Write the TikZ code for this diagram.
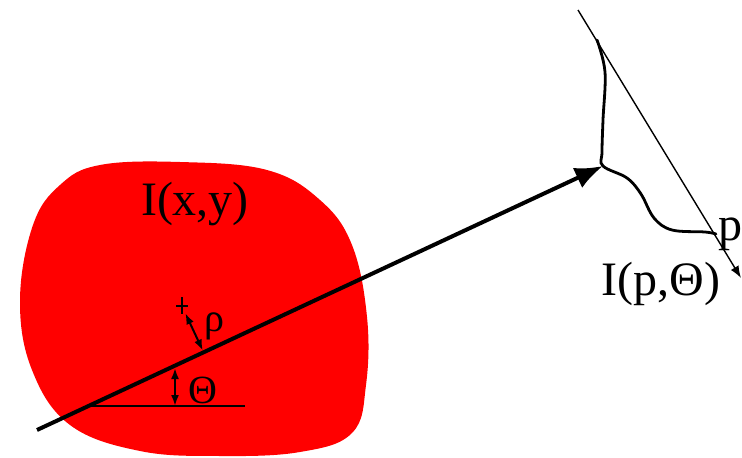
\documentclass[tikz,border=0pt]{standalone}
\usepackage{fontspec}
\setmainfont{Liberation Serif}
\usetikzlibrary{arrows.meta,calc}

\definecolor{objekt}{RGB}{255,0,0}

\tikzset{
  gross/.style={font=\fontsize{48}{52}\selectfont, inner sep=0pt, anchor=base},
  klein/.style={font=\fontsize{40}{44}\selectfont, inner sep=0pt, anchor=base},
  strahl/.style={-{Latex[length=28pt,width=22pt]}, line width=4pt},
  achse/.style={-{Latex[length=12pt,width=9pt]}, line width=1.4pt},
  profil/.style={line width=2.8pt, line cap=round},
  mass/.style={{Latex[length=11pt,width=8pt]}-{Latex[length=11pt,width=8pt]}, line width=2pt},
}

\begin{document}
\begin{tikzpicture}[x=1pt, y=-1pt]
  \useasboundingbox (0,0) rectangle (742,458);

  % Objekt (rote Flaeche)
  \fill[objekt] plot[smooth cycle, tension=0.65] coordinates {
    (100,165) (180,162) (267,170) (320,200) (352,245) (367,317) (366,385)
    (352,433) (300,452) (220,456) (140,451) (70,425) (32,370) (20,300)
    (33,225) (60,185)};
  \node[gross] (bild) at (195,215) {I(x,y)};

  % Koordinaten
  \coordinate (start)   at (37,430);
  \coordinate (treffer) at (603,166);
  \coordinate (ursprung) at (182,306);
  \coordinate (oben)    at (578,10);
  \coordinate (unten)   at (741,278);
  \coordinate (winkeloben)  at (175,368);
  \coordinate (winkelunten) at (175,406);
  \coordinate (horizlinks)  at (90,406);
  \coordinate (horizrechts) at (245,406);
  \coordinate (fuss) at ($(start)!(ursprung)!(treffer)$);

  % Ursprung (+) und Abstand
  \draw[line width=1.2pt] ($(ursprung)+(-6,0)$) -- ($(ursprung)+(6,0)$);
  \draw[line width=1.2pt] ($(ursprung)+(0,-9)$) -- ($(ursprung)+(0,8)$);
  \draw[mass, shorten <=8pt, shorten >=2pt] (ursprung) -- (fuss);
  \node[klein] (rho) at (214,331) {ρ};

  % Winkel
  \draw[line width=1.4pt] (horizlinks) -- (horizrechts);
  \draw[mass] (winkeloben) -- (winkelunten);
  \node[klein] (theta) at (203,403) {Θ};

  % Projektionsstrahl
  \draw[strahl] (start) -- (treffer);

  % Projektion
  \draw[achse] (oben) -- (unten);
  \draw[profil] plot[smooth, tension=0.6] coordinates {
    (597,40) (605,72) (603,120) (602,152) (603,166) (627,178) (641,194)
    (654,218) (672,230) (705,232) (716,234)};
  \node[gross, anchor=base west] (p) at (718,240) {p};
  \node[gross] (projektion) at (661,295) {I(p,Θ)};
\end{tikzpicture}
\end{document}
